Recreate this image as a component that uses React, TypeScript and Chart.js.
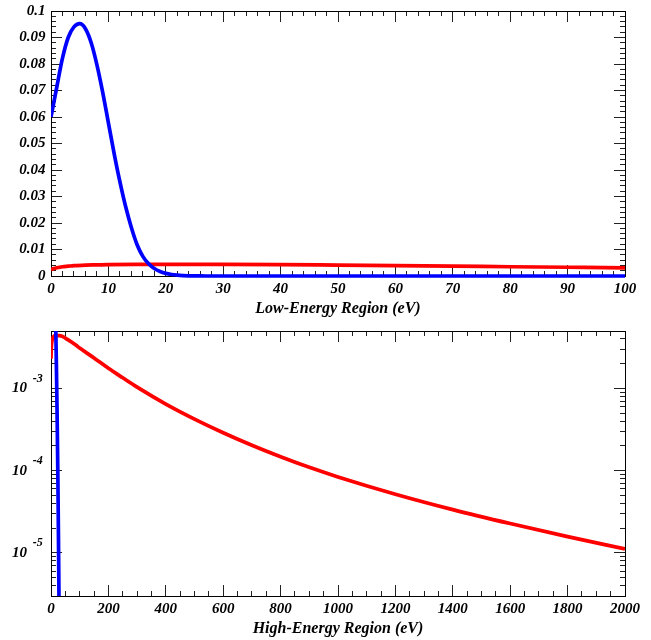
import React, { useEffect, useRef } from "react";
import { Chart, registerables } from "chart.js";

Chart.register(...registerables);

// ---------- data ----------
const blueEnergy = [
  0, 1, 2, 3, 4, 5, 6, 7, 8, 9, 10, 11, 12, 13, 14, 15, 16, 17, 18, 19, 20,
  21, 22, 23, 24, 25, 26, 27, 28, 29, 30, 35, 40, 50, 60, 70, 80, 90, 100,
];
const blueDensity = [
  0.06, 0.0712, 0.0822, 0.09, 0.094, 0.0952, 0.0933, 0.088, 0.0797, 0.0694,
  0.0578, 0.0462, 0.0356, 0.0262, 0.0183, 0.0118, 0.0074, 0.0046, 0.00282,
  0.0017, 0.001, 5.7e-4, 3.1e-4, 1.6e-4, 7.8e-5, 3.6e-5, 1.55e-5, 6.2e-6,
  2.3e-6, 7.8e-7, 2.4e-7, 2e-10, 1e-13, 1e-14, 1e-14, 1e-14, 1e-14, 1e-14, 1e-14,
];

const redEnergy = [
  0, 0.5, 1, 2, 3, 4, 6, 8, 10, 15, 20, 26, 30, 40, 50, 60, 70, 80, 90, 100,
  150, 200, 250, 300, 400, 500, 600, 700, 800, 900, 1000, 1200, 1400, 1600,
  1800, 2000,
];
const redDensity = [
  0.0023, 0.0028, 0.0031, 0.0035, 0.0037, 0.0039, 0.0041, 0.0042, 0.0043,
  0.0044, 0.0044, 0.0044, 0.0044, 0.0043, 0.0041, 0.0039, 0.0037, 0.0035,
  0.0033, 0.0031, 0.00235, 0.00176, 0.00135, 0.00104, 6.47e-4, 4.25e-4, 2.9e-4,
  2.04e-4, 1.48e-4, 1.1e-4, 8.41e-5, 5.19e-5, 3.37e-5, 2.28e-5, 1.58e-5, 1.12e-5,
];

// ---------- axes ----------
const lowXRange = [0, 100];
const lowXSteps = [10, 2];
const lowYRange = [0, 0.1];
const lowYSteps = [0.01, 0.002];
const highXRange = [0, 2000];
const highXSteps = [200, 50];
const highYRange = [3e-6, 5e-3];
const highYDecades = [1e-5, 1e-4, 1e-3];
const highYMantissas = [1, 2, 3, 4, 5, 6, 7, 8, 9];
const highYExponents = [-6, -5, -4, -3];

const lowTitle = "Low-Energy Region (eV)";
const highTitle = "High-Energy Region (eV)";

const FAMILY = "'Liberation Serif', 'DejaVu Serif', serif";
const tickFont = { family: FAMILY, size: 15, style: "italic" as const, weight: "bold" as const, lineHeight: 1.2 };
const titleFont = { family: FAMILY, size: 16, style: "italic" as const, weight: "bold" as const, lineHeight: 1.2 };

const MAJOR = -11;
const MINOR = -5;

function sizeHook(size: number, horizontal: boolean) {
  return (s: any) => {
    if (horizontal) s.height = size;
    else s.width = size;
    s.paddingTop = 0;
    s.paddingBottom = 0;
    s.paddingLeft = 0;
    s.paddingRight = 0;
  };
}

function markAxis(position: string, type: string, range: number[], len: number, border: boolean, weight: number, extra: any = {}) {
  const horizontal = position === "top" || position === "bottom";
  return {
    type,
    position,
    min: range[0],
    max: range[1],
    weight,
    ticks: { display: false, autoSkip: false, ...(extra.ticks || {}) },
    grid: { display: true, drawOnChartArea: false, drawTicks: true, tickLength: len, tickColor: "#222", tickWidth: 1 },
    border: { display: border, color: "#000", width: 1 },
    afterBuildTicks: extra.afterBuildTicks,
    afterFit: sizeHook(0, horizontal),
  };
}

function xAxes(range: number[], steps: number[], title: string) {
  return {
    x: {
      type: "linear",
      position: "bottom",
      min: range[0],
      max: range[1],
      weight: 1,
      ticks: {
        stepSize: steps[0],
        autoSkip: false,
        maxRotation: 0,
        minRotation: 0,
        padding: 15.5,
        font: tickFont,
        color: "#000",
        callback: (v: any) => String(v),
      },
      grid: { display: true, drawOnChartArea: false, drawTicks: true, tickLength: MAJOR, tickColor: "#222", tickWidth: 1 },
      border: { display: true, color: "#000", width: 1 },
      title: { display: true, text: title, font: titleFont, color: "#000", padding: { top: 0, bottom: 2 } },
      afterFit: sizeHook(44, true),
    },
    xMinor: markAxis("bottom", "linear", range, MINOR, false, 0, { ticks: { stepSize: steps[1] } }),
    xTop: markAxis("top", "linear", range, MAJOR, true, 1, { ticks: { stepSize: steps[0] } }),
    xTopMinor: markAxis("top", "linear", range, MINOR, false, 0, { ticks: { stepSize: steps[1] } }),
  };
}

function series(clip: any) {
  return [
    {
      data: blueEnergy.map((e, i) => ({ x: e, y: blueDensity[i] })),
      borderColor: "#0000ff",
      borderWidth: 3.7,
      pointRadius: 0,
      cubicInterpolationMode: "monotone",
      fill: false,
      clip,
    },
    {
      data: redEnergy.map((e, i) => ({ x: e, y: redDensity[i] })),
      borderColor: "#ff0000",
      borderWidth: 3.7,
      pointRadius: 0,
      cubicInterpolationMode: "monotone",
      fill: false,
      clip,
    },
  ];
}

function lowConfig(): any {
  return {
    type: "line",
    data: { datasets: series({ left: 0, right: 0, top: 0, bottom: 3 }) },
    options: {
      animation: false,
      responsive: false,
      devicePixelRatio: 1,
      layout: { padding: { top: 11, right: 26, bottom: 0, left: 0 } },
      plugins: { legend: { display: false }, tooltip: { enabled: false } },
      scales: {
        ...xAxes(lowXRange, lowXSteps, lowTitle),
        y: {
          type: "linear",
          position: "left",
          min: lowYRange[0],
          max: lowYRange[1],
          weight: 1,
          ticks: {
            stepSize: lowYSteps[0],
            autoSkip: false,
            padding: 16.5,
            font: tickFont,
            color: "#000",
            callback: (v: any) => String(+Number(v).toFixed(4)),
          },
          grid: { display: true, drawOnChartArea: false, drawTicks: true, tickLength: MAJOR, tickColor: "#222", tickWidth: 1 },
          border: { display: true, color: "#000", width: 1 },
          afterFit: sizeHook(51, false),
        },
        yMinor: markAxis("left", "linear", lowYRange, MINOR, false, 0, { ticks: { stepSize: lowYSteps[1] } }),
        yRight: markAxis("right", "linear", lowYRange, MAJOR, true, 1, { ticks: { stepSize: lowYSteps[0] } }),
        yRightMinor: markAxis("right", "linear", lowYRange, MINOR, false, 0, { ticks: { stepSize: lowYSteps[1] } }),
      },
    },
  };
}

const minorLogTicks = () => {
  const out: { value: number }[] = [];
  highYExponents.forEach((ex) =>
    highYMantissas.forEach((m) => {
      const v = m * Math.pow(10, ex);
      if (v > highYRange[0] * 1.001 && v < highYRange[1] * 0.999) out.push({ value: v });
    })
  );
  return out;
};

const logExponentPlugin = {
  id: "logExponents",
  afterDraw(chart: any) {
    const s = chart.scales.y;
    const ctx = chart.ctx;
    ctx.save();
    ctx.font = `italic bold 12px ${FAMILY}`;
    ctx.fillStyle = "#000";
    ctx.textAlign = "left";
    ctx.textBaseline = "middle";
    s.ticks.forEach((t: any) => {
      const y = s.getPixelForValue(t.value);
      ctx.fillText(String(Math.round(Math.log10(t.value))), s.right - 18.3, y - 10);
    });
    ctx.restore();
  },
};

function highConfig(): any {
  const logAxis = (position: string, len: number, border: boolean, weight: number, major: boolean) =>
    markAxis(position, "logarithmic", highYRange, len, border, weight, {
      afterBuildTicks: (s: any) => {
        s.ticks = major ? highYDecades.map((v) => ({ value: v, major: true })) : minorLogTicks();
      },
    });
  return {
    type: "line",
    data: { datasets: series(0) },
    options: {
      animation: false,
      responsive: false,
      devicePixelRatio: 1,
      layout: { padding: { top: 11, right: 26, bottom: 0, left: 0 } },
      plugins: { legend: { display: false }, tooltip: { enabled: false } },
      scales: {
        ...xAxes(highXRange, highXSteps, highTitle),
        y: {
          type: "logarithmic",
          position: "left",
          min: highYRange[0],
          max: highYRange[1],
          weight: 1,
          afterBuildTicks: (s: any) => {
            s.ticks = highYDecades.map((v) => ({ value: v, major: true }));
          },
          ticks: {
            autoSkip: false,
            padding: 35,
            font: tickFont,
            color: "#000",
            callback: () => "10",
          },
          grid: { display: true, drawOnChartArea: false, drawTicks: true, tickLength: MAJOR, tickColor: "#222", tickWidth: 1 },
          border: { display: true, color: "#000", width: 1 },
          afterFit: sizeHook(51, false),
        },
        yMinor: logAxis("left", MINOR, false, 0, false),
        yRight: logAxis("right", MAJOR, true, 1, true),
        yRightMinor: logAxis("right", MINOR, false, 0, false),
      },
    },
    plugins: [logExponentPlugin],
  };
}

export default function App() {
  const topRef = useRef<HTMLCanvasElement>(null);
  const bottomRef = useRef<HTMLCanvasElement>(null);

  useEffect(() => {
    const c1 = new Chart(topRef.current as HTMLCanvasElement, lowConfig());
    const c2 = new Chart(bottomRef.current as HTMLCanvasElement, highConfig());
    return () => {
      c1.destroy();
      c2.destroy();
    };
  }, []);

  return (
    <div style={{ position: "absolute", left: 0, top: 0, width: 651, height: 640, background: "#fff" }}>
      <canvas ref={topRef} width={651} height={320} style={{ position: "absolute", left: 0, top: 0, width: 651, height: 320 }} />
      <canvas ref={bottomRef} width={651} height={320} style={{ position: "absolute", left: 0, top: 320, width: 651, height: 320 }} />
    </div>
  );
}
